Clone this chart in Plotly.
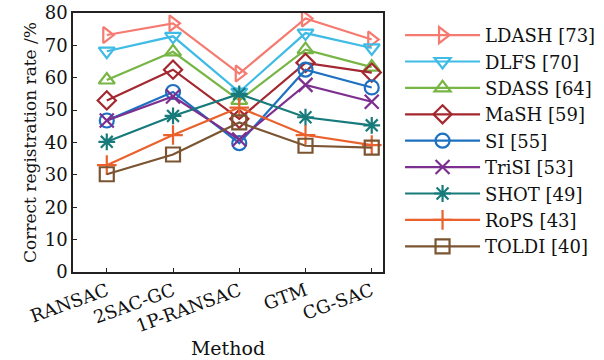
import plotly.graph_objects as go

methods = ["RANSAC", "2SAC-GC", "1P-RANSAC", "GTM", "CG-SAC"]

ldash = [73.2, 76.8, 61.3, 78.3, 71.8]
dlfs = [68.2, 72.8, 55.6, 73.8, 69.2]
sdass = [59.3, 68.0, 53.0, 68.7, 63.3]
mash = [53.0, 62.5, 47.3, 64.6, 61.6]
si = [46.8, 55.6, 39.8, 62.5, 57.0]
trisi = [46.8, 54.2, 40.9, 57.8, 52.6]
shot = [40.2, 48.2, 55.0, 47.8, 45.3]
rops = [33.0, 42.3, 50.8, 42.3, 39.2]
toldi = [30.2, 36.3, 46.2, 39.0, 38.4]

series = [
    ("LDASH [73]", ldash, "#f57a70", "triangle-right-open"),
    ("DLFS [70]", dlfs, "#3fbbe6", "triangle-down-open"),
    ("SDASS [64]", sdass, "#77b545", "triangle-up-open"),
    ("MaSH [59]", mash, "#a3282f", "diamond-open"),
    ("SI [55]", si, "#1e70c1", "circle-open"),
    ("TriSI [53]", trisi, "#7d2f8f", "x-thin-open"),
    ("SHOT [49]", shot, "#177a7b", "asterisk-open"),
    ("RoPS [43]", rops, "#ea612d", "cross-thin-open"),
    ("TOLDI [40]", toldi, "#7b5531", "square-open"),
]

fig = go.Figure()
for name, vals, col, sym in series:
    fig.add_trace(go.Scatter(
        x=methods, y=vals, name=name, mode="lines+markers",
        line=dict(color=col, width=2.2),
        marker=dict(symbol=sym, size=14, color=col, line=dict(width=2.2, color=col)),
    ))

font = "DejaVu Serif"
fig.update_layout(
    width=604, height=360,
    margin=dict(l=73, r=221, t=13, b=88, autoexpand=False),
    plot_bgcolor="white", paper_bgcolor="white",
    font=dict(family=font, size=18, color="#111"),
    legend=dict(x=1.055, y=0.985, xanchor="left", yanchor="top",
                font=dict(family=font, size=18, color="#111"), itemwidth=75,
                tracegroupgap=0, bgcolor="rgba(0,0,0,0)", maxheight=340),
    showlegend=True,
)
fig.update_xaxes(
    range=[-0.51, 4.17], tickangle=-20, showgrid=False, zeroline=False,
    showline=True, linecolor="#222", linewidth=1.5, mirror=True,
    ticks="inside", ticklen=4, tickcolor="#222", automargin=False,
    title=dict(text="Method", font=dict(family=font, size=19), standoff=6),
    tickfont=dict(family=font, size=18),
)
fig.update_yaxes(
    range=[0, 80], dtick=10, showgrid=False, zeroline=False,
    showline=True, linecolor="#222", linewidth=1.5, mirror=True,
    ticks="inside", ticklen=4, tickcolor="#222", automargin=False,
    title=dict(text="Correct registration rate /%", font=dict(family=font, size=17), standoff=4),
    tickfont=dict(family=font, size=18),
)
fig.write_html("out.html")
